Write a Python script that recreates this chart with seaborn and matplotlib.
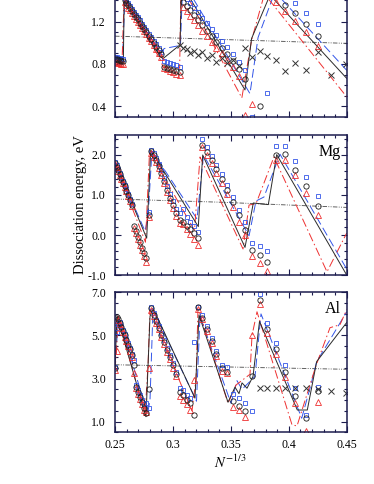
import numpy as np
import matplotlib
matplotlib.use("Agg")
import matplotlib.pyplot as plt
import seaborn as sns
from matplotlib.ticker import FixedLocator, FixedFormatter, MultipleLocator

nan = np.nan

# cluster sizes N (x axis is N^-1/3)
N = list(range(64, 10, -1))

# ---------------- top panel ----------------
top_circ = [0.85, 0.845, 0.84, 0.835, 0.83, 0.825,
            1.40, 1.376, 1.351, 1.325, 1.30, 1.274, 1.246, 1.219, 1.19, 1.16, 1.129, 1.098, 1.066, 1.033, 0.998, 0.964, 0.927, 0.89,
            0.77, 0.76, 0.75, 0.74, 0.735, 0.725,
            1.385, 1.345, 1.305, 1.26, 1.215, 1.165, 1.115, 1.06, 1.005, 0.95, 0.89, 0.825, 0.75, 0.66,
            nan, 0.40, nan, nan, 1.36, 1.276, 1.175, 1.062, nan, nan]
top_sq = [0.87, 0.865, 0.86, 0.855, 0.85, 0.845,
          1.42, 1.396, 1.371, 1.345, 1.32, 1.294, 1.266, 1.239, 1.21, 1.18, 1.149, 1.118, 1.086, 1.053, 1.018, 0.984, 0.947, 0.91,
          0.83, 0.82, 0.81, 0.80, 0.79, 0.775,
          1.455, 1.415, 1.375, 1.33, 1.285, 1.235, 1.185, 1.13, 1.075, 1.02, 0.96, 0.895, 0.82, 0.74,
          0.30, nan, 0.53, nan, nan, 1.37, 1.28, 1.18, nan, nan]
top_tri = [0.82, 0.815, 0.81, 0.805, 0.80, 0.80,
           1.38, 1.356, 1.331, 1.305, 1.28, 1.254, 1.226, 1.199, 1.17, 1.14, 1.109, 1.078, 1.046, 1.013, 0.978, 0.944, 0.907, 0.87,
           0.765, 0.75, 0.735, 0.72, 0.705, 0.695,
           1.335, 1.295, 1.255, 1.21, 1.165, 1.115, 1.065, 1.01, 0.955, 0.90, 0.84, 0.775, 0.69, 0.32,
           0.42, nan, nan, 1.385, 1.30, 1.206, 1.097, 0.968, nan, nan]
top_xN = list(range(35, 10, -1))
top_x = [0.98, 0.95, 0.94, 0.90, 0.92, 0.88, 0.91, 0.86, 0.88, 0.82, 0.86, 0.81, 0.84, 0.78,
         0.947, 0.868, 0.921, 0.874, 0.836, 0.736, 0.811, 0.742, 0.915, 0.695, 0.80]
top_black_x = [0.25, 0.2572, 0.2579, 0.2893, 0.2914, 0.3061, 0.3075, 0.3622, 0.3679, 0.3838, 0.45]
top_black_y = [0.84, 0.82, 1.40, 0.87, 0.85, 0.98, 1.55, 0.555, 1.04, 1.45, 0.664]
top_blue_x = [0.25, 0.2565, 0.2585, 0.2895, 0.2924, 0.3065, 0.3085, 0.3665, 0.3735, 0.3880, 0.45]
top_blue_y = [0.86, 0.86, 1.42, 0.90, 0.945, 0.975, 1.58, 0.52, 1.05, 1.48, 0.74]
top_red_x = [0.25, 0.2560, 0.2578, 0.2893, 0.2914, 0.3058, 0.3070, 0.3595, 0.3679, 0.3790, 0.45]
top_red_y = [0.81, 0.80, 1.40, 0.84, 0.77, 0.76, 1.55, 0.48, 1.025, 1.46, 0.49]
top_ref_x = [0.25, 0.45]
top_ref_y = [1.062, 0.994]

# ---------------- Mg panel ----------------
mg_circ = [1.79, 1.71, 1.62, 1.53, 1.43, 1.33, 1.22, 1.11, 0.99, 0.87, 0.74,
           0.22, 0.09, -0.05, -0.18, -0.32, -0.45, -0.58,
           0.50,
           2.09, 2.00, 1.87, 1.72, 1.55, 1.35, 1.13, 0.93, 0.74, 0.55, 0.38,
           0.32, 0.22, 0.15, 0.05, -0.08,
           2.25, 2.08, 1.87, 1.64, 1.40, 1.12, 0.83, 0.50, 0.13,
           -0.37, -0.49, -0.68,
           2.01, 2.03, 1.63, 1.22, 0.72, nan, nan]
mg_sq = [1.82, 1.74, 1.65, 1.56, 1.46, 1.36, 1.25, 1.14, 1.02, 0.90, 0.77,
         nan, nan, nan, nan, nan, nan, nan,
         0.58,
         2.13, 2.05, 1.92, 1.78, 1.62, 1.43, 1.22, 1.02, 0.84, 0.66, 0.55,
         0.66, 0.45, 0.33, 0.22, 0.08,
         2.40, 2.20, 1.98, 1.75, 1.52, 1.25, 0.95, 0.62, 0.32,
         -0.20, -0.27, -0.39,
         2.22, 2.22, 1.84, 1.44, 0.97, nan, nan]
mg_tri = [1.77, 1.69, 1.60, 1.51, 1.41, 1.31, 1.20, 1.09, 0.97, 0.85, 0.72,
          0.18, 0.04, -0.10, -0.24, -0.38, -0.52, -0.68,
          0.45,
          2.05, 1.96, 1.83, 1.67, 1.50, 1.30, 1.08, 0.88, 0.68, 0.48, 0.30,
          0.27, 0.15, 0.02, -0.10, -0.24,
          2.20, 2.00, 1.79, 1.55, 1.31, 1.02, 0.70, 0.33, 0.00,
          -0.53, -0.70, -0.89,
          1.88, 1.88, 1.51, 1.05, 0.49, nan, nan]
mg_black_x = [0.25, 0.27736, 0.28082, 0.3219, 0.3257, 0.36222, 0.36938, 0.38233, 0.38958, 0.45]
mg_black_y = [1.82, -0.08, 2.12, 0.21, 2.0, -0.31, 0.80, 0.76, 2.01, -1.0]
mg_blue_x = [0.25, 0.2759, 0.2785, 0.2819, 0.3208, 0.3264, 0.3657, 0.3717, 0.3786, 0.3924, 0.45]
mg_blue_y = [1.80, 0.10, 0.45, 2.10, 0.40, 2.0, -0.02, 0.85, 0.95, 2.02, -0.85]
mg_red_x = [0.25, 0.2763, 0.2798, 0.3186, 0.3234, 0.3605, 0.3657, 0.3717, 0.3872, 0.4330, 0.45]
mg_red_y = [1.78, -0.18, 2.08, 0.12, 1.95, -0.35, 0.75, 0.78, 1.95, -0.92, 0.05]
mg_ref_x = [0.25, 0.3406, 0.45]
mg_ref_y = [0.90, 0.82, 0.69]

# ---------------- Al panel ----------------
al_circ = [3.48, 5.88, 5.75, 5.58, 5.40, 5.20, 5.00, 4.80, 4.58, 4.35, 4.10, 3.62,
           2.63, 2.39, 2.15, 1.90, 1.65, 1.40,
           2.50,
           6.27, 5.97, 5.66, 5.35, 5.02, 4.69, 4.34, 3.99, 3.61, 3.22,
           2.39, 2.24, 2.00, 1.85, 1.30,
           6.32, 5.80, 5.30, 4.75, 4.15, 3.48, 3.30,
           1.95, 1.74, 1.50, 3.14,
           6.66, 5.30, 4.38, 3.32, 2.19, 1.15, 2.40, nan, nan]
al_sq = [3.52, 5.18, 5.55, 5.62, 5.45, 5.25, 5.05, 4.85, 4.63, 4.40, 4.15, 3.87,
         2.70, 2.45, 2.22, 2.00, 1.80, 1.85,
         1.62,
         6.30, 6.02, 5.72, 5.42, 5.10, 4.77, 4.42, 4.08, 3.70, 3.32,
         2.55, 2.45, 2.25, 2.10, 4.70,
         6.30, 5.95, 5.45, 4.90, 4.30, 3.65, 3.55,
         2.30, 2.10, 1.85, 1.50,
         6.92, 5.60, 4.67, 3.64, 2.55, 1.30, 2.60, nan, nan]
al_tri = [3.40, 4.30, 5.70, 5.52, 5.35, 5.15, 4.95, 4.75, 4.52, 4.28, 4.00, 3.28,
          2.55, 2.30, 2.05, 1.80, 1.55, 1.45,
          3.50,
          6.20, 5.90, 5.60, 5.28, 4.95, 4.60, 4.25, 3.90, 3.50, 3.10,
          2.20, 2.00, 1.80, 1.55, 2.94,
          6.25, 5.75, 5.20, 4.65, 4.05, 3.35, 3.25,
          1.70, 1.55, 1.23, 5.03,
          6.45, 5.10, 4.13, 3.06, 1.86, 0.58, 1.93, nan, nan]
al_xN = list(range(19, 10, -1))
al_x = [2.55, 2.55, 2.55, 2.55, 2.55, 2.55, 2.50, 2.40, 2.32]
al_black_x = [0.25, 0.25173, 0.27676, 0.28021, 0.2828, 0.31905, 0.32251, 0.34754, 0.35358, 0.35703,
              0.35962, 0.36394, 0.36912, 0.37473, 0.40736, 0.41599, 0.4241, 0.45]
al_black_y = [3.5, 5.9, 1.23, 5.88, 6.27, 2.09, 5.95, 1.9, 2.6, 2.3, 2.8, 2.55, 3.1, 5.65, 1.54, 1.54, 3.79, 5.6]
al_blue_x = [0.25, 0.25216, 0.25345, 0.27805, 0.28021, 0.2828, 0.32035, 0.32337, 0.35013, 0.35531,
             0.35962, 0.37084, 0.37602, 0.41115, 0.41832, 0.4241, 0.43558, 0.45]
al_blue_y = [3.52, 5.2, 5.8, 1.35, 2.0, 6.2, 1.95, 5.9, 1.85, 2.9, 2.5, 3.1, 6.0, 1.16, 2.55, 3.79, 4.8, 6.1]
al_red_x = [0.25, 0.2513, 0.25259, 0.2759, 0.27849, 0.28021, 0.31647, 0.32, 0.32165, 0.34754, 0.35445,
            0.36653, 0.36826, 0.37257, 0.4028, 0.40712, 0.4235, 0.43558, 0.44421, 0.45]
al_red_y = [3.40, 4.3, 5.9, 1.30, 3.6, 6.2, 1.5, 3.0, 6.3, 1.85, 2.7, 3.2, 5.0, 6.1, 0.85, 0.8, 3.6, 5.36, 5.5, 6.2]
al_ref_x = [0.25, 0.45]
al_ref_y = [3.64, 3.43]

x_ticks = [0.25, 0.30, 0.35, 0.40, 0.45]
x_labels = ["0.25", "0.3", "0.35", "0.4", "0.45"]

# ---------------- drawing ----------------
sns.set_theme(style="ticks")
plt.rcParams["font.family"] = ["Liberation Serif", "DejaVu Serif"]
plt.rcParams["mathtext.fontset"] = "stix"

NAVY = "#1c1c4e"
BLK = "#1a1a1a"
BLUE = "#3355e8"
RED = "#ee3030"
GREY = "#555555"

fig = plt.figure(figsize=(3.74, 4.84), dpi=100)
left, width, height = 0.3075, 0.6195, 0.2893
ax_top = fig.add_axes([left, 0.7583, width, height])
ax_mg = fig.add_axes([left, 0.4318, width, height])
ax_al = fig.add_axes([left, 0.1066, width, height])

xN = np.array(N, dtype=float) ** (-1.0 / 3.0)


def line(ax, xs, ys, color, ls, lw=0.7):
    sns.lineplot(x=xs, y=ys, sort=False, estimator=None, color=color, lw=lw,
                 linestyle=ls, legend=False, ax=ax)


def pts(ax, xs, ys, marker, color, ms, mew=0.6):
    sns.lineplot(x=xs, y=ys, sort=False, estimator=None, linestyle="none",
                 marker=marker, ms=ms, mfc="none", mec=color, mew=mew,
                 color=color, legend=False, ax=ax)


def panel(ax, circ, sq, tri, lines_, ref, crosses, ylim, yticks, ylabels, yminor, label):
    rx, ry = ref
    line(ax, rx, ry, GREY, (0, (5, 1.5, 1, 1.5, 1, 1.5)), lw=0.65)
    (bx, by), (ux, uy), (qx, qy) = lines_
    line(ax, ux, uy, BLUE, (0, (9, 4)))
    line(ax, qx, qy, RED, (0, (9, 3, 1.5, 3)))
    line(ax, bx, by, "#2a2a2a", "-")
    pts(ax, xN, sq, "s", BLUE, 3.4)
    pts(ax, xN, tri, "^", RED, 3.8)
    pts(ax, xN, circ, "o", BLK, 3.8)
    if crosses is not None:
        cN, cv = crosses
        pts(ax, np.array(cN, float) ** (-1.0 / 3.0), cv, "x", "#333333", 5.0, mew=0.7)
    ax.set_xlim(0.25, 0.45)
    ax.set_ylim(*ylim)
    ax.xaxis.set_major_locator(FixedLocator(x_ticks))
    ax.xaxis.set_major_formatter(FixedFormatter(x_labels))
    ax.xaxis.set_minor_locator(MultipleLocator(0.01))
    ax.yaxis.set_major_locator(FixedLocator(yticks))
    ax.yaxis.set_major_formatter(FixedFormatter(ylabels))
    ax.yaxis.set_minor_locator(MultipleLocator(yminor))
    ax.tick_params(which="both", direction="in", top=True, right=True,
                   color=NAVY, width=0.8, labelsize=8.5, labelcolor="black")
    ax.tick_params(axis="y", which="major", pad=6.5)
    ax.tick_params(axis="x", which="major", pad=5)
    ax.tick_params(which="major", length=4)
    ax.tick_params(which="minor", length=2)
    for s in ax.spines.values():
        s.set_color(NAVY)
        s.set_linewidth(1.1)
    ax.set_xlabel("")
    ax.set_ylabel("")
    ax.set_facecolor("white")
    if label:
        ax.text(0.975, 0.88, label, transform=ax.transAxes, ha="right", va="center",
                fontsize=11.5, color="black")


panel(ax_top, top_circ, top_sq, top_tri,
      [(top_black_x, top_black_y), (top_blue_x, top_blue_y), (top_red_x, top_red_y)],
      (top_ref_x, top_ref_y), (top_xN, top_x),
      (0.3, 1.62), [0.4, 0.8, 1.2], ["0.4", "0.8", "1.2"], 0.1, None)
panel(ax_mg, mg_circ, mg_sq, mg_tri,
      [(mg_black_x, mg_black_y), (mg_blue_x, mg_blue_y), (mg_red_x, mg_red_y)],
      (mg_ref_x, mg_ref_y), None,
      (-1.0, 2.5), [-1.0, 0.0, 1.0, 2.0], ["-1.0", "0.0", "1.0", "2.0"], 0.2, "Mg")
panel(ax_al, al_circ, al_sq, al_tri,
      [(al_black_x, al_black_y), (al_blue_x, al_blue_y), (al_red_x, al_red_y)],
      (al_ref_x, al_ref_y), (al_xN, al_x),
      (0.5, 7.0), [1.0, 3.0, 5.0, 7.0], ["1.0", "3.0", "5.0", "7.0"], 0.5, "Al")

ax_top.tick_params(labelbottom=False)
ax_mg.tick_params(labelbottom=False)

fig.text(0.216, 0.578, "Dissociation energy, eV", rotation=90, ha="center", va="center",
         fontsize=10.5, color="black")
fig.text(0.617, 0.044, r"$N^{-1/3}$", ha="center", va="center", fontsize=10.5, color="black")

fig.patch.set_facecolor("white")
fig.savefig("out.png", dpi=100, facecolor="white")
